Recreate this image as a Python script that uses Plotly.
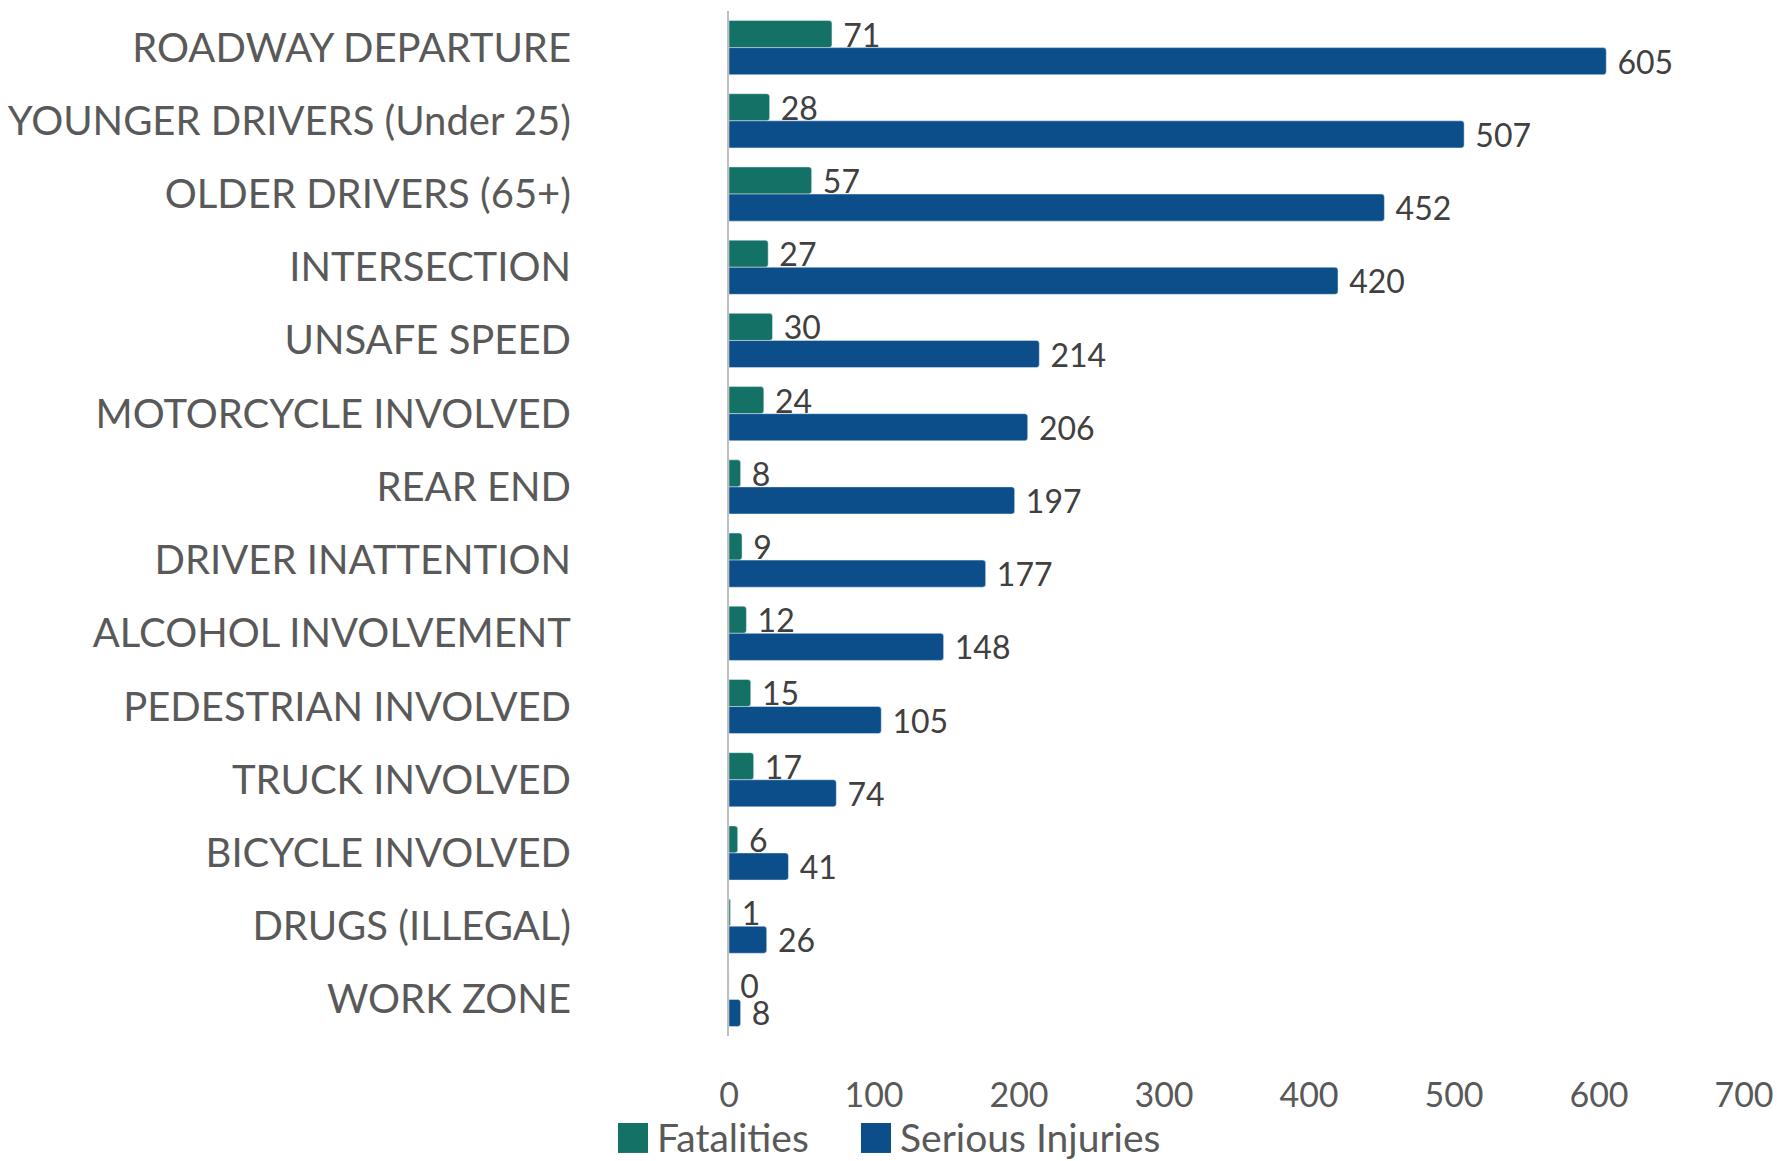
import plotly.graph_objects as go

categories = ["ROADWAY DEPARTURE", "YOUNGER DRIVERS (Under 25)", "OLDER DRIVERS (65+)",
              "INTERSECTION", "UNSAFE SPEED", "MOTORCYCLE INVOLVED", "REAR END",
              "DRIVER INATTENTION", "ALCOHOL INVOLVEMENT", "PEDESTRIAN INVOLVED",
              "TRUCK INVOLVED", "BICYCLE INVOLVED", "DRUGS (ILLEGAL)", "WORK ZONE"]
fatalities = [71, 28, 57, 27, 30, 24, 8, 9, 12, 15, 17, 6, 1, 0]
serious_injuries = [605, 507, 452, 420, 214, 206, 197, 177, 148, 105, 74, 41, 26, 8]
x_ticks = [0, 100, 200, 300, 400, 500, 600, 700]
series_names = ["Fatalities", "Serious Injuries"]
series_colors = ["#137265", "#0B4E8A"]

FONT = "Lato"
GREY = "#595959"

fig = go.Figure()
for name, vals, col in zip(series_names, [fatalities, serious_injuries], series_colors):
    fig.add_trace(go.Bar(
        y=categories, x=vals, orientation="h", name=name,
        marker=dict(color=col, cornerradius=3),
        text=[f" {v}" for v in vals], textposition="outside",
        textfont=dict(family=FONT, size=32, color="#404040"),
        constraintext="none", cliponaxis=False, showlegend=False,
    ))

# manual legend (large square swatches like the original)
legend_items = [(-0.1094, -0.0798, -0.0729), (0.130, 0.1596, 0.1665)]
for (x0, x1, xt), name, col in zip(legend_items, series_names, series_colors):
    fig.add_shape(type="rect", xref="paper", yref="paper", x0=x0, x1=x1,
                  y0=-0.1141, y1=-0.0849, fillcolor=col, line=dict(width=0))
    fig.add_annotation(xref="paper", yref="paper", x=xt, y=-0.0985, text=name,
                       showarrow=False, xanchor="left", yanchor="middle",
                       font=dict(family=FONT, size=39, color=GREY))

fig.update_layout(
    width=1777, height=1161,
    margin=dict(l=729, r=33, t=11, b=125),
    barmode="group", bargap=0.26, bargroupgap=0,
    plot_bgcolor="white", paper_bgcolor="white",
    font=dict(family=FONT, color=GREY),
    showlegend=False,
)
fig.update_xaxes(range=[0, 700], tickvals=x_ticks, showgrid=False, zeroline=False,
                 showline=False, ticks="outside", ticklen=29, tickcolor="rgba(0,0,0,0)",
                 tickfont=dict(family=FONT, size=34, color=GREY), automargin=False,
                 ticklabeloverflow="allow")
fig.update_yaxes(autorange="reversed", showgrid=False, showline=True, linecolor="#BFBFBF",
                 linewidth=2, ticks="outside", ticklen=148, tickcolor="rgba(0,0,0,0)",
                 tickfont=dict(family=FONT, size=40, color=GREY), automargin=False)

# remove the browser's default 8px body margin so the figure fills the window exactly
fig.write_html("out.html", config={"displayModeBar": False},
               post_script="document.body.style.margin='0';document.body.style.overflow='hidden';")
